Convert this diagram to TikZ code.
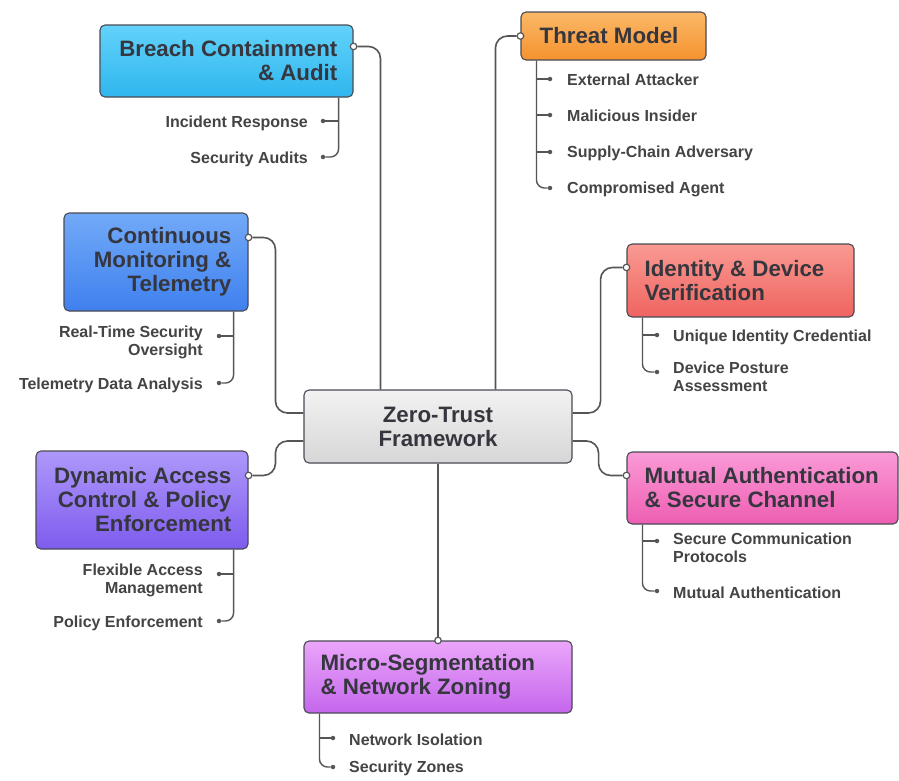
\documentclass[tikz,border=0pt]{standalone}
\usepackage{fontspec}
\setmainfont{Liberation Sans}
\usetikzlibrary{calc}
\definecolor{bordc}{HTML}{4A4A55}
\definecolor{linec}{HTML}{555555}
\definecolor{titlec}{HTML}{36363F}
\definecolor{itemc}{HTML}{444444}
\begin{document}
\begin{tikzpicture}[x=1pt,y=-1pt,
  box/.style={draw=bordc, line width=1.1pt, rounded corners=5pt, inner sep=0pt},
  title/.style={font=\fontsize{22.3}{24}\selectfont\bfseries, text=titlec, inner sep=0pt},
  item/.style={font=\fontsize{16}{18}\selectfont\bfseries, text=itemc, inner sep=0pt},
  conn/.style={draw=linec, line width=1.6pt, rounded corners=12pt},
  sub/.style={draw=linec, line width=1.4pt, rounded corners=8pt},
  idot/.style={circle, fill=linec, inner sep=0pt, minimum size=4.5pt},
  odot/.style={circle, draw=linec, fill=white, line width=1.2pt, inner sep=0pt, minimum size=6.5pt}]
\useasboundingbox[fill=white] (0,0) rectangle (899,780);

% boxes
\node[box, top color=white!90!gray, bottom color=white!68!gray, minimum width=268pt, minimum height=73pt] (zt) at (438,426.5) {};
\node[title, align=center] (ztT) at (zt.center) {Zero-Trust\\Framework};

\node[box, top color={rgb,255:red,98;green,210;blue,250}, bottom color={rgb,255:red,47;green,182;blue,238}, minimum width=253pt, minimum height=72pt] (breach) at (226.5,61) {};
\node[title, align=right, anchor=east] (breachT) at ($(breach.east)+(-16,0)$) {Breach Containment\\\& Audit};

\node[box, top color={rgb,255:red,251;green,184;blue,104}, bottom color={rgb,255:red,245;green,146;blue,46}, minimum width=185pt, minimum height=48pt] (threat) at (613.5,36) {};
\node[title, align=left, anchor=west] (threatT) at ($(threat.west)+(19,0)$) {Threat Model};

\node[box, top color={rgb,255:red,114;green,170;blue,248}, bottom color={rgb,255:red,63;green,128;blue,238}, minimum width=184pt, minimum height=98pt] (cont) at (156,262) {};
\node[title, align=right, anchor=east] (contT) at ($(cont.east)+(-17,0)$) {Continuous\\Monitoring \&\\Telemetry};

\node[box, top color={rgb,255:red,249;green,154;blue,146}, bottom color={rgb,255:red,239;green,100;blue,96}, minimum width=227pt, minimum height=73pt] (ident) at (740.5,280.5) {};
\node[title, align=left, anchor=west] (identT) at ($(ident.west)+(18,0)$) {Identity \& Device\\Verification};

\node[box, top color={rgb,255:red,250;green,154;blue,214}, bottom color={rgb,255:red,238;green,94;blue,178}, minimum width=271pt, minimum height=72pt] (mutual) at (762.5,488) {};
\node[title, align=left, anchor=west] (mutualT) at ($(mutual.west)+(18,0)$) {Mutual Authentication\\\& Secure Channel};

\node[box, top color={rgb,255:red,174;green,152;blue,250}, bottom color={rgb,255:red,126;green,92;blue,238}, minimum width=212pt, minimum height=98pt] (dyn) at (142,500) {};
\node[title, align=right, anchor=east] (dynT) at ($(dyn.east)+(-17,0)$) {Dynamic Access\\Control \& Policy\\Enforcement};

\node[box, top color={rgb,255:red,235;green,166;blue,250}, bottom color={rgb,255:red,196;green,102;blue,236}, minimum width=268pt, minimum height=72pt] (micro) at (438,677) {};
\node[title, align=left, anchor=west] (microT) at ($(micro.west)+(17,0)$) {Micro-Segmentation\\\& Network Zoning};

% main connectors
\node[odot] (bo) at ($(breach.north east)+(0,22)$) {};
\node[odot] (to) at (threat.west) {};
\node[odot] (co) at ($(cont.north east)+(0,25)$) {};
\node[odot] (do) at ($(dyn.north east)+(0,25)$) {};
\node[odot] (io) at ($(ident.north west)+(0,24)$) {};
\node[odot] (mo) at ($(mutual.north west)+(0,24)$) {};
\node[odot] (so) at (micro.north) {};

\draw[conn] (bo) -| ($(zt.north west)+(77,0)$);
\draw[conn] (to) -| ($(zt.north west)+(192,0)$);
\draw[conn] (co) -| ($(zt.west)+(-28,-13.5)$) -- ($(zt.west)+(0,-13.5)$);
\draw[conn] (do) -| ($(zt.west)+(-28,14.5)$) -- ($(zt.west)+(0,14.5)$);
\draw[conn] ($(zt.east)+(0,-13.5)$) -- ++(28,0) |- (io);
\draw[conn] ($(zt.east)+(0,14.5)$) -- ++(26,0) |- (mo);
\draw[conn] (zt.south) -- (so);

% breach items
\coordinate (bv) at ($(breach.south east)+(-15,0)$);
\node[idot] (b1) at (323,121) {};
\node[idot] (b2) at (323,157) {};
\draw[sub] (bv) |- (b2);
\draw[sub] (bv |- b1) -- (b1);
\node[item, anchor=east] (b1T) at (308,123) {Incident Response};
\node[item, anchor=east] (b2T) at (308,159) {Security Audits};

% threat items
\coordinate (tv) at ($(threat.south west)+(16,0)$);
\node[idot] (t1) at (550,79) {};
\node[idot] (t2) at (550,115) {};
\node[idot] (t3) at (550,152) {};
\node[idot] (t4) at (550,188) {};
\draw[sub] (tv) |- (t4);
\draw[sub] (tv |- t1) -- (t1);
\draw[sub] (tv |- t2) -- (t2);
\draw[sub] (tv |- t3) -- (t3);
\node[item, anchor=west] (t1T) at (567,80) {External Attacker};
\node[item, anchor=west] (t2T) at (567,116) {Malicious Insider};
\node[item, anchor=west] (t3T) at (567,153) {Supply-Chain Adversary};
\node[item, anchor=west] (t4T) at (567,189) {Compromised Agent};

% continuous items
\coordinate (cv) at ($(cont.south east)+(-15,0)$);
\node[idot] (c1) at (219,336) {};
\node[idot] (c2) at (219,383) {};
\draw[sub] (cv) |- (c2);
\draw[sub] (cv |- c1) -- (c1);
\node[item, anchor=north east, align=right] (c1T) at (203,326) {Real-Time Security\\Oversight};
\node[item, anchor=east] (c2T) at (203,385) {Telemetry Data Analysis};

% identity items
\coordinate (iv) at ($(ident.south west)+(16,0)$);
\node[idot] (i1) at (657,335) {};
\node[idot] (i2) at (657,372) {};
\draw[sub] (iv) |- (i2);
\draw[sub] (iv |- i1) -- (i1);
\node[item, anchor=west] (i1T) at (673,337) {Unique Identity Credential};
\node[item, anchor=north west, align=left] (i2T) at (673,362) {Device Posture\\Assessment};

% mutual items
\coordinate (mv) at ($(mutual.south west)+(16,0)$);
\node[idot] (m1) at (657,541) {};
\node[idot] (m2) at (657,591) {};
\draw[sub] (mv) |- (m2);
\draw[sub] (mv |- m1) -- (m1);
\node[item, anchor=north west, align=left] (m1T) at (673,533) {Secure Communication\\Protocols};
\node[item, anchor=west] (m2T) at (673,593) {Mutual Authentication};

% dynamic items
\coordinate (dv) at ($(dyn.south east)+(-15,0)$);
\node[idot] (d1) at (219,574) {};
\node[idot] (d2) at (219,621) {};
\draw[sub] (dv) |- (d2);
\draw[sub] (dv |- d1) -- (d1);
\node[item, anchor=north east, align=right] (d1T) at (203,564) {Flexible Access\\Management};
\node[item, anchor=east] (d2T) at (203,623) {Policy Enforcement};

% micro items
\coordinate (sv) at ($(micro.south west)+(16,0)$);
\node[idot] (s1) at (333,738) {};
\node[idot] (s2) at (333,767) {};
\draw[sub] (sv) |- (s2);
\draw[sub] (sv |- s1) -- (s1);
\node[item, anchor=west] (s1T) at (349,740) {Network Isolation};
\node[item, anchor=west] (s2T) at (349,768) {Security Zones};
\end{tikzpicture}
\end{document}
